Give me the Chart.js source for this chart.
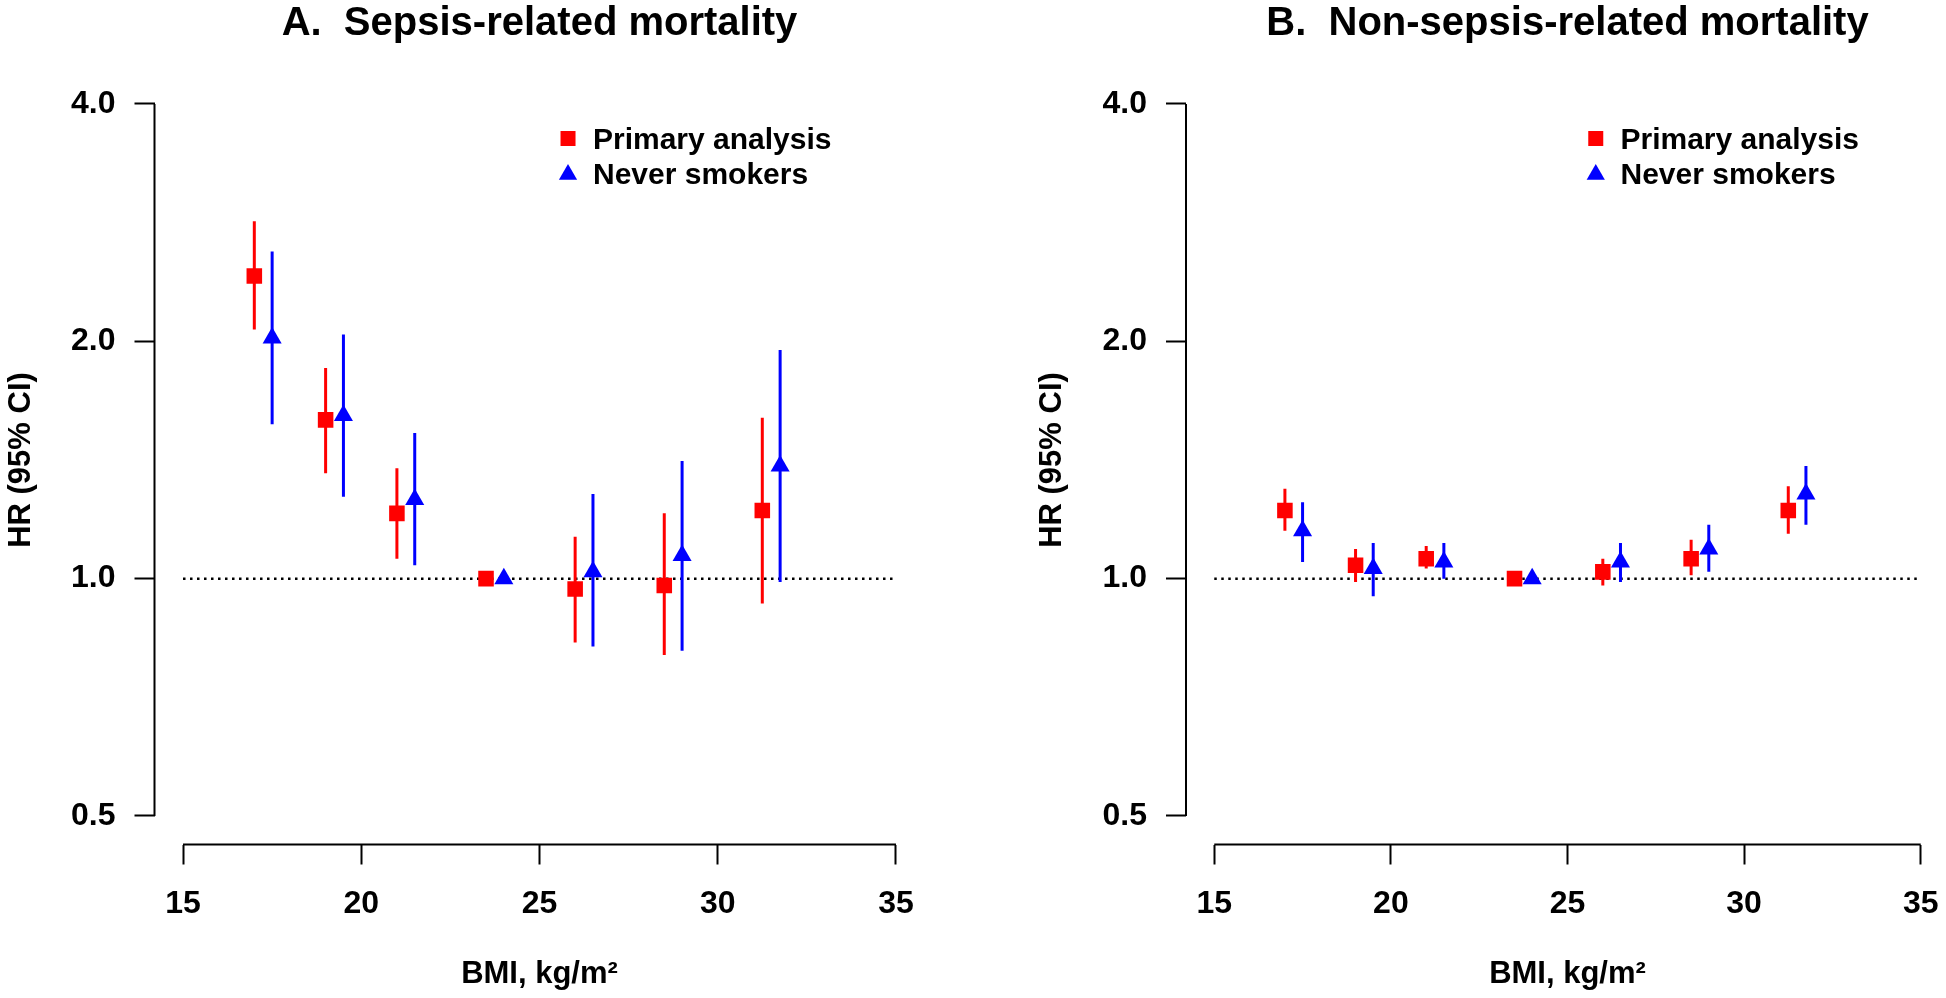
<!DOCTYPE html>
<html>
<head>
<meta charset="utf-8">
<title>BMI and mortality</title>
<script src="https://cdn.jsdelivr.net/npm/chart.js@4.4.1/dist/chart.umd.min.js"></script>
<style>
    html, body { margin: 0; padding: 0; background: #fff; overflow: hidden; width: 1946px; height: 998px; }
    canvas { position: absolute; top: 0; left: 0; }
</style>
</head>
<body>
<canvas id="panelA" width="1946" height="998"></canvas>
<canvas id="panelB" width="1960" height="998"></canvas>
<script>
// BMI category positions (never smokers drawn half a unit to the right)
var primaryBmi = [17, 19, 21, 23.5, 26, 28.5, 31.25];
var neverBmi = [17.5, 19.5, 21.5, 24, 26.5, 29, 31.75];

// A. Sepsis-related mortality
var sepsisPrimaryHr = [2.42, 1.59, 1.21, 1.00, 0.97, 0.98, 1.22];
var sepsisPrimaryLo = [2.07, 1.36, 1.06, 1.00, 0.83, 0.80, 0.93];
var sepsisPrimaryHi = [2.84, 1.85, 1.38, 1.00, 1.13, 1.21, 1.60];
var sepsisNeverHr = [2.02, 1.61, 1.26, 1.00, 1.02, 1.07, 1.39];
var sepsisNeverLo = [1.57, 1.27, 1.04, 1.00, 0.82, 0.81, 0.99];
var sepsisNeverHi = [2.60, 2.04, 1.53, 1.00, 1.28, 1.41, 1.95];

// B. Non-sepsis-related mortality
var otherPrimaryHr = [1.22, 1.04, 1.06, 1.00, 1.02, 1.06, 1.22];
var otherPrimaryLo = [1.15, 0.99, 1.03, 1.00, 0.98, 1.01, 1.14];
var otherPrimaryHi = [1.30, 1.09, 1.10, 1.00, 1.06, 1.12, 1.31];
var otherNeverHr = [1.15, 1.03, 1.05, 1.00, 1.05, 1.09, 1.28];
var otherNeverLo = [1.05, 0.95, 1.00, 1.00, 0.99, 1.02, 1.17];
var otherNeverHi = [1.25, 1.11, 1.11, 1.00, 1.11, 1.17, 1.39];

var xTicks = [15, 20, 25, 30, 35];
var yTicks = [0.5, 1.0, 2.0, 4.0];
var legendLabels = ['Primary analysis', 'Never smokers'];

var RED = '#ff0000';
var BLUE = '#0000ff';
var FONT = "'Liberation Sans', Arial, Helvetica, sans-serif";

// one vertical segment per BMI group, skipped for the reference group
function ciDatasets(xs, lo, hi, color) {
    var sets = [];
    xs.forEach(function (x, i) {
        if (lo[i] === hi[i]) return;
        sets.push({
            data: [{ x: x, y: lo[i] }, { x: x, y: hi[i] }],
            showLine: true,
            borderColor: color,
            borderWidth: 3,
            pointRadius: 0,
            order: 2
        });
    });
    return sets;
}

function pointDataset(xs, hr, color, style, size) {
    return {
        data: xs.map(function (x, i) { return { x: x, y: hr[i] }; }),
        pointStyle: style,
        pointRadius: size,
        backgroundColor: color,
        borderColor: color,
        borderWidth: 0,
        order: 0
    };
}

/* axis lines only span the first..last tick, R style */
var axisLines = {
    id: 'axisLines',
    afterDraw: function (chart) {
        var ctx = chart.ctx, xs = chart.scales.x, ys = chart.scales.y;
        ctx.save();
        ctx.strokeStyle = '#000';
        ctx.lineWidth = 2;
        ctx.beginPath();
        ctx.moveTo(xs.left, ys.getPixelForValue(yTicks[0]));
        ctx.lineTo(xs.left, ys.getPixelForValue(yTicks[yTicks.length - 1]));
        ctx.moveTo(xs.getPixelForValue(xTicks[0]), ys.bottom);
        ctx.lineTo(xs.getPixelForValue(xTicks[xTicks.length - 1]), ys.bottom);
        ctx.stroke();
        ctx.restore();
    }
};

/* panel title and in-plot legend */
var panelText = {
    id: 'panelText',
    afterDraw: function (chart) {
        var ctx = chart.ctx, xs = chart.scales.x, area = chart.chartArea;
        ctx.save();
        ctx.fillStyle = '#000';
        ctx.textAlign = 'center';
        ctx.textBaseline = 'middle';
        ctx.font = 'bold 40px ' + FONT;
        ctx.fillText(chart.options.panelTitle, xs.getPixelForValue(25), 24);

        var mx = xs.getPixelForValue(25.8);
        var tx = xs.getPixelForValue(26.5);
        var rows = [area.top + 63, area.top + 99];
        // red square
        ctx.fillStyle = RED;
        ctx.fillRect(mx - 7.5, rows[0] - 7.5, 15, 15);
        // blue triangle
        ctx.fillStyle = BLUE;
        ctx.beginPath();
        ctx.moveTo(mx, rows[1] - 10.5);
        ctx.lineTo(mx + 9.1, rows[1] + 5.25);
        ctx.lineTo(mx - 9.1, rows[1] + 5.25);
        ctx.closePath();
        ctx.fill();

        ctx.fillStyle = '#000';
        ctx.textAlign = 'left';
        ctx.font = 'bold 30px ' + FONT;
        ctx.fillText(legendLabels[0], tx, rows[0] + 2);
        ctx.fillText(legendLabels[1], tx, rows[1] + 1);
        ctx.restore();
    }
};

function makePanel(canvasId, title, padLeft, padRight, primary, never) {
    var ctx = document.getElementById(canvasId).getContext('2d');
    var datasets = [
        {
            // dotted reference line at HR = 1
            data: [{ x: 15, y: 1 }, { x: 35, y: 1 }],
            showLine: true,
            borderColor: '#000',
            borderWidth: 2.5,
            borderDash: [2.5, 4.5],
            pointRadius: 0,
            order: 3
        }
    ];
    datasets = datasets.concat(ciDatasets(primaryBmi, primary.lo, primary.hi, RED));
    datasets = datasets.concat(ciDatasets(neverBmi, never.lo, never.hi, BLUE));
    datasets.push(pointDataset(primaryBmi, primary.hr, RED, 'rect', 11));
    datasets.push(pointDataset(neverBmi, never.hr, BLUE, 'triangle', 11));

    return new Chart(ctx, {
        type: 'scatter',
        data: { datasets: datasets },
        options: {
            panelTitle: title,
            responsive: false,
            animation: false,
            layout: { padding: { left: padLeft, right: padRight, top: 75.5, bottom: 0 } },
            plugins: {
                legend: { display: false },
                tooltip: { enabled: false }
            },
            scales: {
                x: {
                    type: 'linear',
                    min: 14.2,
                    max: 35.8,
                    afterBuildTicks: function (axis) {
                        axis.ticks = xTicks.map(function (v) { return { value: v }; });
                    },
                    afterFit: function (axis) { axis.height = 153.5; },
                    grid: { drawOnChartArea: false, drawTicks: true, tickLength: 20, tickWidth: 2, tickColor: '#000' },
                    border: { display: false },
                    ticks: {
                        padding: 20,
                        color: '#000',
                        maxRotation: 0,
                        font: { family: FONT, size: 32, weight: 'bold' },
                        callback: function (v) { return String(v); }
                    },
                    title: {
                        display: true,
                        text: 'BMI, kg/m²',
                        color: '#000',
                        padding: { top: 0, bottom: 5 },
                        font: { family: FONT, size: 31, weight: 'bold' }
                    }
                },
                y: {
                    type: 'logarithmic',
                    min: 0.46,
                    max: 4.347,
                    afterBuildTicks: function (axis) {
                        axis.ticks = yTicks.map(function (v) { return { value: v }; });
                    },
                    afterFit: function (axis) { axis.width = 154.5; },
                    grid: { drawOnChartArea: false, drawTicks: true, tickLength: 20, tickWidth: 2, tickColor: '#000' },
                    border: { display: false },
                    ticks: {
                        padding: 19,
                        color: '#000',
                        font: { family: FONT, size: 32, weight: 'bold' },
                        callback: function (v) { return Number(v).toFixed(1); }
                    },
                    title: {
                        display: true,
                        text: 'HR (95% CI)',
                        color: '#000',
                        padding: { top: 2.5, bottom: 0 },
                        font: { family: FONT, size: 31, weight: 'bold' }
                    }
                }
            }
        },
        plugins: [axisLines, panelText]
    });
}

makePanel('panelA', 'A.  Sepsis-related mortality', 0, 1021.5,
    { hr: sepsisPrimaryHr, lo: sepsisPrimaryLo, hi: sepsisPrimaryHi },
    { hr: sepsisNeverHr, lo: sepsisNeverLo, hi: sepsisNeverHi });

makePanel('panelB', 'B.  Non-sepsis-related mortality', 1031.5, 4,
    { hr: otherPrimaryHr, lo: otherPrimaryLo, hi: otherPrimaryHi },
    { hr: otherNeverHr, lo: otherNeverLo, hi: otherNeverHi });
</script>
</body>
</html>
